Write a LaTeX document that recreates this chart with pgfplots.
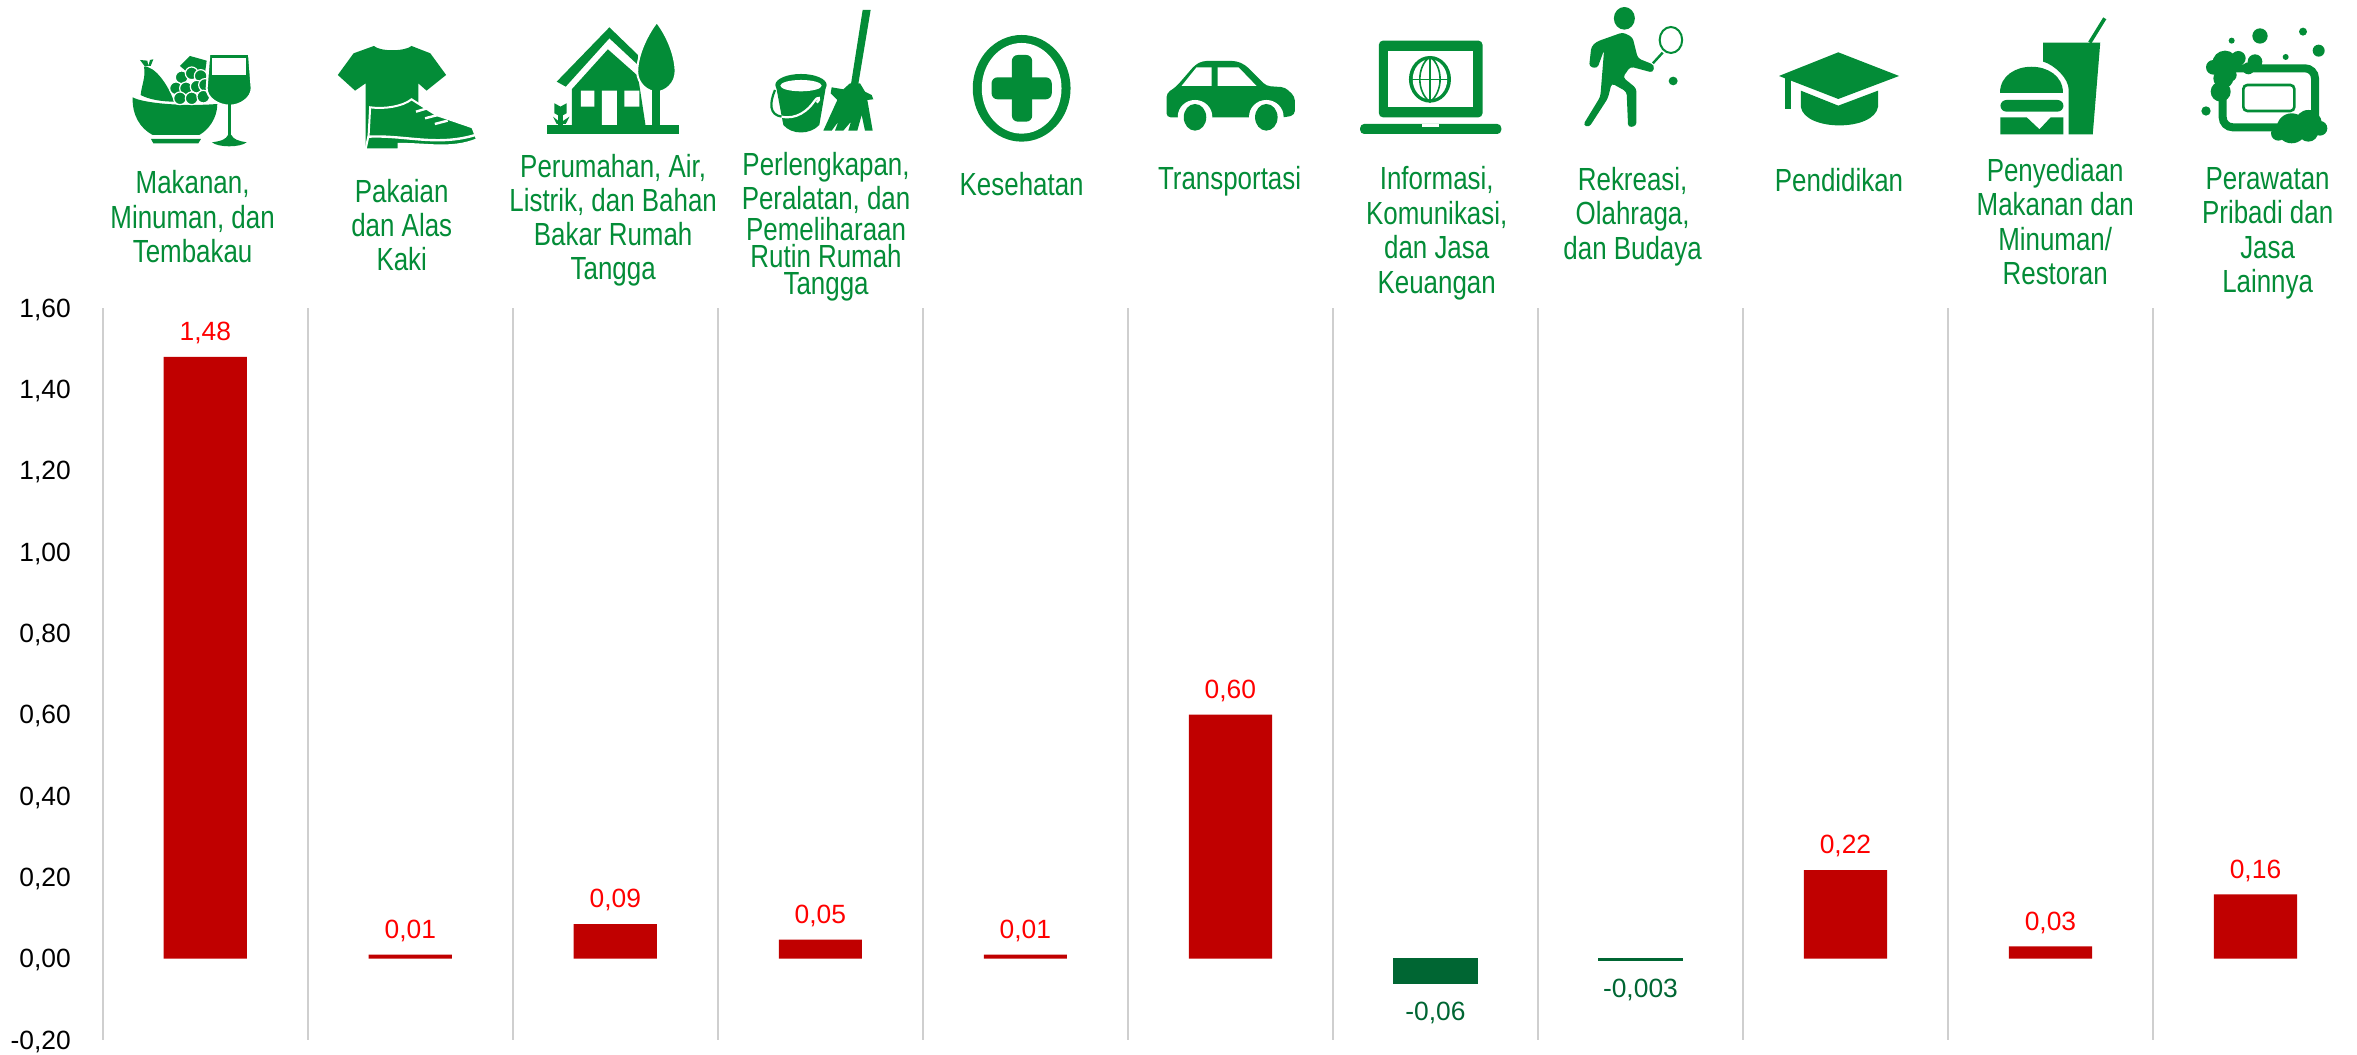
\documentclass[border=0pt]{standalone}
\usepackage{fontspec}
\setmainfont{Liberation Sans}
\newfontfamily\catfont[FakeStretch=0.81]{Liberation Sans}
\usepackage{pgfplots}
\pgfplotsset{compat=1.18}
\definecolor{iconc}{HTML}{038C37}
\definecolor{barred}{HTML}{C00000}
\definecolor{bargreen}{HTML}{006633}
\definecolor{gridc}{HTML}{CFCFCF}
\tikzset{
  cat/.style={text=iconc,align=center,inner sep=0pt,font=\catfont\fontsize{8}{#1}\selectfont},
  cat/.default=8.6,
  ic/.style={fill=iconc,draw=none},
  wh/.style={fill=white,draw=none},
  wo/.style={fill=iconc,draw=white,line width=0.5pt},
}
\begin{document}
\begin{tikzpicture}
\path[use as bounding box] (0,0) rectangle (589.25pt,-263.75pt);
\begin{axis}[
    at={(25.7pt,-260pt)}, anchor=south west,
    scale only axis,
    width=563.8pt, height=183pt,
    xmin=0.5, xmax=11.5, ymin=-0.2, ymax=1.6,
    ybar, bar shift=0pt, bar width=20.8pt,
    xtick={0.5,1.5,...,10.5}, xticklabels={},
    ytick={-0.2,0,...,1.6},
    xmajorgrids, grid style={gridc,line width=0.5pt},
    axis line style={draw=none},
    major tick length=0pt,
    clip=false,
    yticklabel style={font=\fontsize{6.6}{7}\selectfont,inner sep=0pt,xshift=-7.8pt,yshift=-0.4pt,
      /pgf/number format/.cd,fixed,fixed zerofill,precision=2,use comma,assume math mode=true},
    point meta=explicit symbolic,
    nodes near coords,
    every node near coord/.append style={font=\fontsize{6.6}{7}\selectfont,inner sep=0pt,outer sep=4.1pt,text height=4.7pt,text depth=0pt},
]
\addplot[fill=barred,draw=none,every node near coord/.append style={text=red}] coordinates {
    (1,1.48) [1,48]
    (2,0.01) [0,01]
    (3,0.085) [0,09]
    (4,0.047) [0,05]
    (5,0.01) [0,01]
    (6,0.60) [0,60]
    (9,0.218) [0,22]
    (10,0.03) [0,03]
    (11,0.158) [0,16]
};
\addplot[fill=bargreen,draw=bargreen,line width=0.4pt,every node near coord/.append style={text=bargreen,anchor=north,outer sep=4.7pt}] coordinates {
    (7,-0.06) [-0,06]
    (8,-0.003) [-0,003]
};
\end{axis}

% icons and labels, coordinates as read from the zoomed crops
\begin{scope}[x=0.18808pt,y=-0.08333pt]
\node[cat] at (256,650) {Makanan,\\Minuman, dan\\Tembakau};
\node[cat] at (534,675) {Pakaian\\dan Alas\\Kaki};
\node[cat=8.5] at (815,660) {Perumahan, Air,\\Listrik, dan Bahan\\Bakar Rumah\\Tangga};
\node[cat=6.7] at (1098,680) {Perlengkapan,\\Peralatan, dan\\Pemeliharaan\\Rutin Rumah\\Tangga};
\node[cat] at (1358,552) {Kesehatan};
% clothes
\fill[ic] (497,138) .. controls (505,155) and (538,155) .. (547,138) -- (572,160) -- (593,225) -- (567,272) -- (556,250) -- (556,330) -- (486,445) -- (486,250) -- (472,272) -- (449,225) -- (470,160) -- cycle;
\filldraw[wo] (492,322) .. controls (510,328) and (535,320) .. (547,298) -- (580,345) -- (628,382) -- (634,418) .. controls (600,450) and (565,430) .. (530,432) -- (530,448) -- (486,448) -- (490,405) -- cycle;
\draw[white,line width=0.6pt] (490,410) .. controls (540,405) and (580,440) .. (632,405);
\draw[white,line width=0.6pt] (553,335) -- (568,325) (565,355) -- (582,345) (578,372) -- (595,362);
% house
\fill[ic] (740,245) -- (810,82) -- (848,165) -- (848,195) -- (810,115) -- (752,260) -- cycle;
\fill[ic] (760,268) -- (808,148) -- (848,228) -- (858,375) -- (760,375) -- cycle;
\fill[wh] (772,272) rectangle (790,320) (830,272) rectangle (850,320) (800,272) rectangle (820,375);
\filldraw[wo] (873,66) .. controls (888,110) and (898,170) .. (898,215) .. controls (898,250) and (885,276) .. (873,276) .. controls (860,276) and (847,250) .. (847,215) .. controls (847,170) and (858,110) .. (873,66) -- cycle;
\fill[ic] (867,270) rectangle (877,375);
\fill[ic] (727,374) rectangle (902,402);
\fill[ic] (737,310) -- (745,320) -- (753,310) -- (753,340) -- (745,350) -- (737,340) -- cycle;
\fill[ic] (742,340) rectangle (748,375);
\fill[ic] (735,350) -- (745,368) -- (757,350) -- (752,372) -- (740,372) -- cycle;
% health
\fill[ic] (1358,265) ellipse [x radius=65,y radius=160];
\fill[wh] (1358,265) ellipse [x radius=53,y radius=136];
\fill[ic,rounded corners=1.5pt] (1345,165) rectangle (1372,365);
\fill[ic,rounded corners=1.5pt] (1318,232) rectangle (1398,298);
\end{scope}

% food, square crop coordinates
\begin{scope}[shift={(25pt,-10pt)},x=0.08333pt,y=-0.08333pt]
\fill[ic] (98,172) .. controls (130,190) and (250,200) .. (352,192) .. controls (352,235) and (325,270) .. (298,285) -- (158,285) .. controls (120,265) and (96,225) .. (98,172) -- cycle;
\fill[ic] (153,297) -- (303,297) -- (295,310) -- (160,310) -- cycle;
\fill[ic] (132,80) .. controls (165,78) and (205,135) .. (222,185) .. controls (185,185) and (145,178) .. (122,165) .. controls (125,135) and (138,110) .. (132,80) -- cycle;
\fill[ic] (120,60) -- (142,62) -- (145,78) -- (135,80) -- cycle (145,78) -- (150,60) -- (160,58) -- (152,78) -- cycle;
\fill[ic] (240,78) -- (270,48) -- (320,62) -- (315,100) -- (260,95) -- cycle;
\foreach \a/\b in {245/112,275/100,302/108,228/145,258/145,290/140,315/135,240/175,275/175,310/170}
  \filldraw[fill=iconc,draw=white,line width=0.3pt] (\a,\b) circle [radius=19];
\filldraw[wo] (328,42) -- (447,42) -- (455,145) .. controls (455,175) and (420,197) .. (390,197) .. controls (355,197) and (320,175) .. (320,145) -- cycle;
\fill[wh] (336,55) rectangle (438,105);
\fill[ic] (383,192) rectangle (394,295);
\fill[ic] (336,307) .. controls (365,303) and (378,298) .. (384,285) -- (394,285) .. controls (400,298) and (415,303) .. (440,307) .. controls (420,323) and (355,323) .. (336,307) -- cycle;
\end{scope}

% bucket and broom, square crop coordinates
\begin{scope}[shift={(187.5pt,0pt)},x=0.08333pt,y=-0.08333pt]
\fill[ic] (78,258) -- (228,258) -- (208,375) .. controls (180,405) and (125,405) .. (100,375) -- cycle;
\fill[ic] (153,255) ellipse [x radius=77,y radius=33];
\fill[wh] (153,257) ellipse [x radius=62,y radius=17];
\draw[iconc,line width=0.55pt] (75,270) .. controls (58,310) and (58,345) .. (95,350);
\draw[white,line width=0.55pt] (95,350) .. controls (140,360) and (175,330) .. (192,305) .. controls (205,285) and (215,295) .. (200,308);
\fill[ic] (338,30) -- (362,30) -- (325,252) -- (303,252) -- cycle;
\fill[ic] (300,250) -- (330,250) -- (345,275) -- (365,285) -- (370,298) -- (352,300) -- (368,392) -- (345,392) -- (335,345) -- (322,392) -- (295,392) -- (303,365) -- (280,392) -- (255,392) -- (265,365) -- (245,392) -- (220,392) -- (262,300) -- (242,280) -- (245,262) -- (280,268) -- cycle;
\end{scope}

\begin{scope}[shift={(295pt,0)},x=0.18766pt,y=-0.08333pt]
\node[cat] at (66,545) {Transportasi};
\node[cat] at (342,700) {Informasi,\\Komunikasi,\\dan Jasa\\Keuangan};
\node[cat] at (603,650) {Rekreasi,\\Olahraga,\\dan Budaya};
\node[cat] at (878,540) {Pendidikan};
\node[cat] at (1166,665) {Penyediaan\\Makanan dan\\Minuman/\\Restoran};
\node[cat] at (1449,700) {Perawatan\\Pribadi dan\\Jasa\\Lainnya};
% car
\fill[ic,rounded corners=1pt] (-18,352) -- (-18,280) -- (-5,260) -- (20,195) -- (30,183) -- (75,183) -- (87,195) -- (115,258) -- (140,262) -- (153,290) -- (153,345) -- (140,352) -- cycle;
\fill[wh] (2,258) -- (22,202) -- (42,202) -- (42,258) -- cycle (50,202) -- (78,202) -- (102,258) -- (50,258) -- cycle;
\fill[wh] (20,350) ellipse [x radius=23,y radius=50] (115,350) ellipse [x radius=23,y radius=50];
\fill[ic] (20,352) ellipse [x radius=15,y radius=40] (115,352) ellipse [x radius=15,y radius=40];
% laptop
\fill[ic,rounded corners=1pt] (265,122) rectangle (403,352);
\fill[wh] (277,152) rectangle (390,322);
\fill[ic] (333,238) ellipse [x radius=28,y radius=70];
\fill[wh] (333,238) ellipse [x radius=23,y radius=60];
\draw[iconc,line width=0.4pt] (333,170) -- (333,306) (307,238) -- (360,238);
\draw[iconc,line width=0.4pt] (333,170) .. controls (315,200) and (315,275) .. (333,306) .. controls (351,275) and (351,200) .. (333,170);
\fill[ic,rounded corners=1pt] (240,372) -- (428,372) -- (428,402) -- (240,402) -- cycle;
\fill[wh] (322,372) rectangle (345,382);
% tennis
\fill[ic] (592,55) ellipse [x radius=14,y radius=34];
\fill[ic,rounded corners=0.8pt] (555,125) -- (590,97) -- (603,112) -- (610,175) -- (632,195) -- (630,218) -- (600,200) -- (590,232) -- (608,265) -- (608,378) -- (597,382) -- (595,275) -- (575,250) -- (570,295) -- (545,382) -- (537,375) -- (560,290) -- (565,150) -- (556,205) -- (545,200) -- (548,140) -- cycle;
\draw[iconc,line width=0.5pt] (654,120) ellipse [x radius=15,y radius=39];
\draw[iconc,line width=0.6pt] (630,190) -- (643,158);
\fill[ic] (657,243) ellipse [x radius=6,y radius=13];
% graduation cap
\fill[ic] (877,157) -- (958,228) -- (877,297) -- (798,228) -- cycle;
\fill[ic] (827,272) -- (877,317) -- (930,272) -- (930,320) .. controls (925,395) and (832,395) .. (827,320) -- cycle;
\fill[ic] (806,235) rectangle (814,328);
% burger and drink
\fill[ic] (1150,128) -- (1226,128) -- (1216,403) -- (1184,403) -- (1184,270) .. controls (1184,235) and (1165,195) .. (1150,185) -- cycle;
\draw[iconc,line width=0.9pt] (1212,128) -- (1232,55);
\fill[ic] (1092,280) .. controls (1092,175) and (1177,175) .. (1177,280) -- cycle;
\fill[ic,rounded corners=1.5pt] (1093,300) rectangle (1177,335);
\fill[ic] (1093,352) -- (1128,352) -- (1145,388) -- (1160,352) -- (1177,352) -- (1177,403) -- (1093,403) -- cycle;
\end{scope}

% soap and bubbles, square crop coordinates
\begin{scope}[shift={(545pt,-2.5pt)},x=0.08333pt,y=-0.08333pt]
\draw[iconc,line width=2pt,rounded corners=2.5pt] (128,175) rectangle (405,352);
\draw[iconc,line width=0.65pt,rounded corners=1pt] (190,225) rectangle (343,303);
\foreach \a/\b/\r in {135/160/38,175/145/22,100/172/22,130/205/30,225/155/22,205/175/18,122/245/30,150/195/20,335/355/45,385/340/40,420/355/22,295/370/22,385/365/30,240/78/23,369/65/12,416/122/18,155/92/9,317/141/9,78/303/14}
  \fill[ic] (\a,\b) circle [radius=\r];
\end{scope}
\end{tikzpicture}
\end{document}
